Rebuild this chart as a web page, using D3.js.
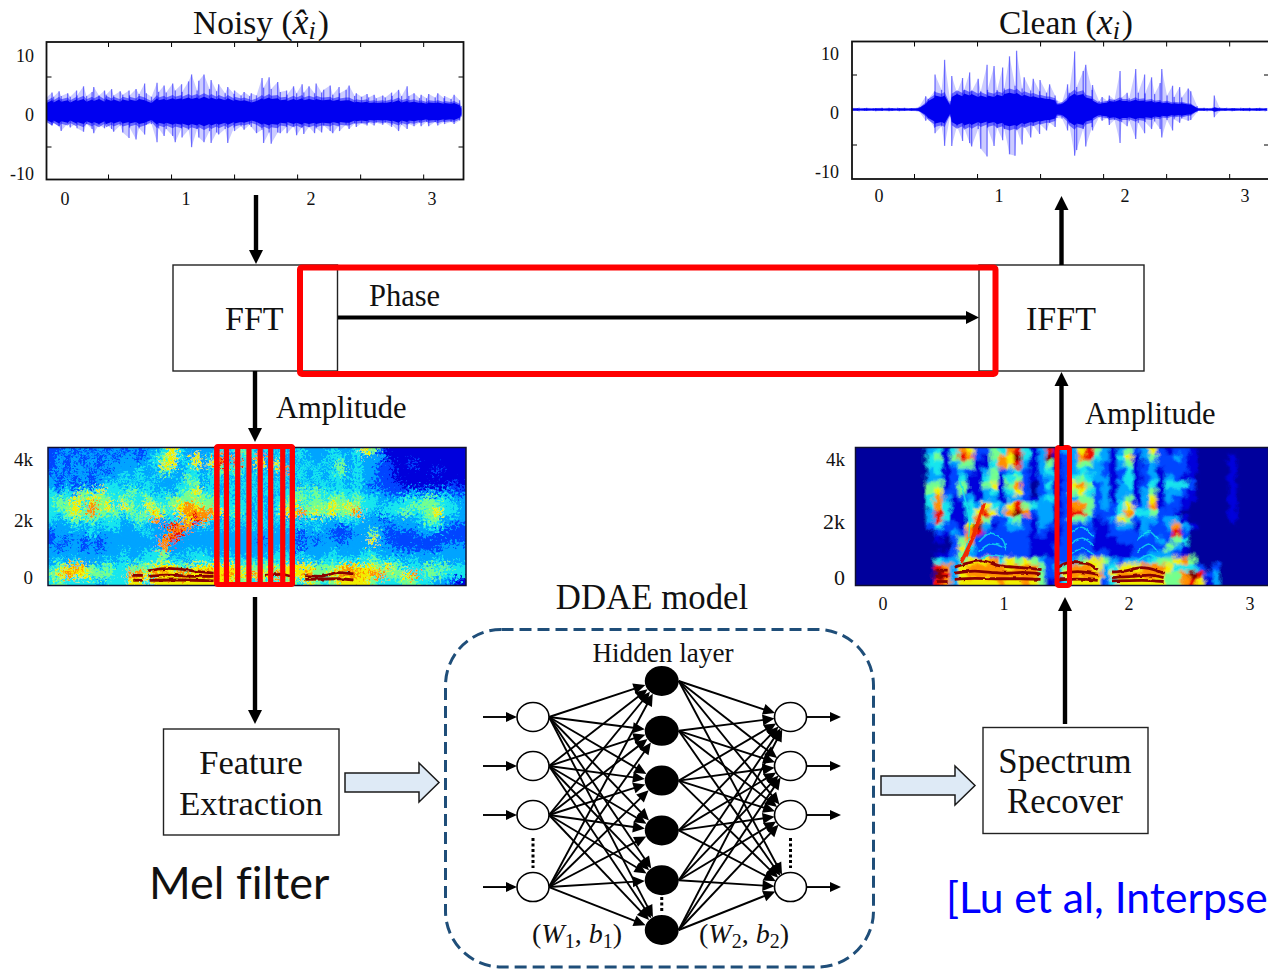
<!DOCTYPE html>
<html>
<head>
<meta charset="utf-8">
<script src="https://cdnjs.cloudflare.com/ajax/libs/d3/7.8.5/d3.min.js"></script>
<style>
  html, body { margin: 0; padding: 0; background: #fff; overflow: hidden; }
  text { font-family: "Liberation Serif", serif; fill: #111; }
  .sans { font-family: "Lato", sans-serif; font-variant-ligatures: none; }
</style>
</head>
<body>
<div id="chart"></div>
<script>
// Waveform envelopes (amplitude, one value per 4px of plot)
const noisyUp = [2.0,2.7,2.1,2.9,2.2,2.6,2.1,3.0,2.3,3.6,2.2,2.8,3.5,2.3,3.0,2.4,3.2,2.3,2.9,2.4,3.0,2.3,3.2,2.5,4.0,2.6,2.1,4.1,2.8,3.7,2.7,4.0,3.0,3.9,2.8,4.3,5.3,3.0,4.4,5.3,3.2,4.5,2.9,3.9,2.6,3.5,2.5,3.0,2.3,2.8,2.2,2.6,2.3,4.8,3.4,4.9,3.2,4.2,2.8,3.0,2.4,3.6,2.6,3.9,2.7,3.6,2.6,4.0,2.7,3.1,3.7,2.4,3.5,2.6,3.1,3.7,2.2,2.6,2.1,2.5,2.0,2.4,1.9,2.3,2.0,2.7,2.2,3.1,2.2,3.6,2.2,2.6,1.9,2.4,1.9,2.5,2.0,2.6,1.9,2.2,1.8,2.4,1.6,0.8];
const noisyDown = [1.5,2.0,1.6,2.1,2.8,1.7,2.3,1.7,2.4,2.9,1.8,2.5,3.1,1.9,2.4,1.8,2.5,2.9,2.0,3.0,3.8,2.3,4.0,2.4,3.3,1.9,1.8,4.4,2.4,3.5,2.5,3.5,4.4,2.4,3.7,2.6,5.1,2.5,3.7,4.4,2.8,4.5,3.0,3.3,2.5,4.5,2.3,2.8,2.1,2.6,1.9,2.2,3.1,2.6,4.5,3.0,4.6,3.0,3.1,2.2,3.1,2.1,3.4,2.2,3.2,2.2,3.1,2.4,3.0,2.0,2.8,3.1,2.0,2.8,1.9,2.5,1.7,2.2,1.7,2.0,1.6,2.0,1.6,1.9,1.6,2.2,1.9,2.8,1.9,2.5,1.8,2.1,1.6,2.1,1.5,2.1,1.5,2.0,1.5,1.8,1.5,1.8,1.3,0.7];
const noisyCore = [1.2,1.6,1.3,1.7,1.4,1.6,1.3,1.7,1.5,1.8,1.4,1.7,1.5,1.8,1.4,1.8,1.5,1.7,1.4,1.7,1.5,1.7,1.5,1.8,1.6,1.5,1.2,1.9,1.6,1.8,1.6,1.9,1.7,1.9,1.7,2.0,1.8,2.0,1.8,2.1,1.8,2.0,1.7,1.9,1.6,1.9,1.5,1.7,1.5,1.6,1.4,1.3,1.5,1.9,1.7,2.0,1.8,1.9,1.6,1.7,1.5,1.8,1.6,1.9,1.6,1.8,1.6,1.8,1.6,1.6,1.7,1.5,1.7,1.5,1.6,1.6,1.3,1.4,1.3,1.4,1.2,1.3,1.2,1.3,1.2,1.4,1.3,1.6,1.3,1.5,1.3,1.4,1.2,1.3,1.1,1.3,1.2,1.3,1.1,1.2,1.1,1.2,.9,.4];

const cleanUp = [.25,.2,.25,.2,.25,.2,.2,.25,.2,.25,.2,.25,.2,.25,.2,.2,.25,.4,1.9,1.5,2.6,5,2.8,7.1,1.2,4.8,2.4,4.5,2.8,5.3,2.6,4.4,2.6,6.4,2.8,6.2,2.8,6,3,7.6,3.4,8.4,3,4.6,2.7,4.4,2.6,4.2,2.4,3.6,2,1.3,1,3.6,2.4,8.3,3.2,5.5,6.4,2.8,3.5,1.2,1.8,1.2,2,1.4,5.5,1.7,2.4,1.6,5.8,2.4,5,2.3,4.6,2.2,3.8,5.8,2,3.4,1.8,3.2,1.7,3,2.6,.5,.25,.25,.2,.25,2,.3,.2,.25,.2,.2,.25,.2,.25,.2,.2,.25,.2,.2];
const cleanDown = [.2,.2,.25,.2,.2,.2,.25,.2,.2,.25,.2,.2,.25,.2,.2,.2,.25,.3,1.6,1.3,2.6,3.4,2.4,5.2,1,5.2,2.4,4.5,2.6,4.8,5.3,2.8,5.6,6.7,2.6,5.2,2.6,4.4,2.8,6.4,6.6,2.8,5,2.4,4,2.3,3.5,2.1,3,1.9,2.5,1.2,1.3,3,2,6.6,5.8,2.8,5.3,2.5,3,1.1,1.6,1.2,2.2,1.5,4.8,1.8,2.4,1.6,4.2,1.9,3.4,1.8,2.8,1.7,2.8,4,1.5,3,1.4,1.9,1.3,1.6,1.5,.4,.2,.2,.25,.2,1.1,.25,.2,.2,.25,.2,.2,.2,.25,.2,.2,.2,.25,.2];
const cleanCore = [.15,.15,.12,.15,.15,.12,.15,.15,.12,.15,.15,.12,.15,.15,.12,.15,.15,.2,.8,1.2,1.7,2,1.8,2,.6,1.8,2.2,1.9,2.3,2,2.2,1.8,2,1.7,2,1.8,2.1,1.9,2.2,2.4,2.2,2.4,1.9,2.1,1.8,1.9,1.6,1.7,1.5,1.5,1.3,.7,.8,1.4,1.8,2.3,2,2.2,1.7,1.5,1.3,.8,.9,1,1.2,1.1,1.4,1.2,1.2,1.1,1.4,1.2,1.3,1.1,1.2,1,1.1,.9,1,.8,.9,.8,.9,.7,.7,.2,.15,.15,.12,.15,.3,.15,.15,.12,.15,.15,.12,.15,.15,.12,.15,.15,.12,.15];

// Axis labels
const ampLabels = [10, 0, -10];
const ampTicks = [-5, 5];
const timeTicks = [0.5, 1, 1.5, 2, 2.5, 3];
const timeLabels = [0, 1, 2, 3];
const freqLabels = ["4k", "2k", "0"];

// Spectrogram levels 0-9 per cell, 52 columns, top row first
const noisyCells = [
 "2232323232 3233464333 3434543434 3433343346 5211111111 11",
 "2323232323 3234564363 4737447343 3433344343 3311111111 11",
 "2323232333 3334663463 6848436363 4343435343 3221121111 11",
 "2323323233 3433543443 4545434347 3434345343 3221111121 11",
 "3232323334 3434333543 4434343434 3434344343 3221111111 11",
 "3232323443 4343334453 4343434343 4343434343 2222111111 21",
 "4343546444 5443434564 4344343434 4545444443 3322232323 22",
 "4546565545 4454455555 5443434344 5545455454 4333444544 33",
 "4556475646 5465456765 5444434345 6455565654 4344455554 43",
 "4456575554 5456546777 7645434346 6756565574 3444544564 43",
 "4345454443 4547343687 4343434343 4343434443 3233334553 33",
 "3334343443 3433387734 3434343434 3434332333 3323333443 22",
 "2333343333 3343378333 3333333333 3233322233 5322223322 22",
 "2323232333 3333783333 3333332333 3232332333 6322222222 22",
 "3233232333 3333733333 3333333333 3233333333 3332222223 33",
 "3333333334 3344533444 3343333344 3433343334 4333333333 33",
 "3434333434 3444544344 4444444444 4343444444 5444343343 33",
 "4567654544 5556665566 6666555556 6665556766 6565444545 44",
 "5676655544 7767767767 7676676676 6675567776 7755674554 44",
 "4544443444 6646666666 6665544545 5465456666 5444554433 21"
];
const cleanCells = [
 "0000000003 4147622547 8413813368 5313523621 2210000000 00",
 "0000000004 5158721576 9413912378 4314613522 3210000100 00",
 "0000000004 4135511476 8313512355 3213512322 2210000100 00",
 "0000000003 4123213523 4213412343 3212412312 2210000100 00",
 "0000000003 3124114514 5212312454 3312412313 2110000100 00",
 "0000000005 5125115615 7202412675 2313412414 4420000100 00",
 "0000000005 6225113414 6202312564 2313313513 3210000100 00",
 "0000000004 7312313313 3213412355 2313513613 2110000100 00",
 "0000000004 7411436436 8543312775 2324623712 2100000100 00",
 "0000000003 8411468637 9723312885 2224744522 1000000100 00",
 "0000000003 8411475224 5213312553 1236523323 3100000100 00",
 "0000000002 4221693123 3213212222 1123313223 7310000000 00",
 "0000000000 2132782222 2212112222 1122223222 8200000000 00",
 "0000000000 1025722222 2211112222 1112222232 5400000000 00",
 "0000000000 0026422222 2211122222 1111122225 3100000000 00",
 "0000000000 1125322222 2211122222 2211122333 2100000000 00",
 "0000000000 4335666746 5653222356 6532333455 6750000000 00",
 "0000000000 8736777776 7775235777 6346667776 4442020000 00",
 "0000000000 9836777777 7775236777 7367777775 5798230000 00",
 "0000000000 8736666676 6765124666 6246666665 5786130000 00"
];

// Harmonic tracks over the spectrograms, as [column, frequency in Hz]
const noisyTracks = [
 [[12.5,480],[15,560],[18,480],[20.6,400]],
 [[12.5,300],[15,340],[18,300],[20.6,300]],
 [[10.6,330],[11.8,330]],
 [[10.6,170],[11.8,170]],
 [[12.5,170],[16,180],[20.6,150]],
 [[27,330],[29,360],[30.4,280]],
 [[32,320],[34,300],[36,420],[38,380]],
 [[32,200],[36,220],[38,180]]
];
const cleanTracks = [
 [[10.2,500],[11.6,500]],
 [[10.2,300],[11.6,300]],
 [[10.2,130],[11.6,130]],
 [[12.5,600],[14,720],[16,800],[18,650],[20,600],[22,560],[23.3,520]],
 [[12.5,400],[15,470],[17,430],[19,400],[21,430],[23.3,380]],
 [[12.5,200],[15,230],[18,220],[21,220],[23.3,200]],
 [[25.3,560],[27,750],[29,720],[30.5,520]],
 [[25.3,360],[28,450],[30.5,360]],
 [[25.3,180],[28,210],[30.5,170]],
 [[32.3,440],[34,480],[36,580],[38,480],[38.8,400]],
 [[32.3,260],[35,300],[37,340],[38.8,260]],
 [[32.3,150],[36,170],[38.8,130]]
];
// Thin cyan formant curves and arcs in the clean spectrogram
const cleanFringes = [
 [[13,3500],[13.6,3000],[14.3,2200],[14.2,1500],[13.6,1000],[13,650]],
 [[15.5,1400],[17,1700],[18.5,1500],[19,1100]],
 [[15.5,1100],[17,1350],[18.5,1250]],
 [[15.8,850],[17,1000],[18.5,950]],
 [[27,1700],[28.5,1900],[30,1600]],
 [[27,1350],[28.5,1550],[30,1300]],
 [[27,1000],[28.5,1200],[30,1000]],
 [[35.5,1500],[37,1750],[38,1500]],
 [[35.5,1100],[37,1350],[38,1100]],
 [[35.5,800],[37,1000],[38,850]]
];
// Bright formant streak rising out of the first vowel
const cleanStreak = [[13.3,750],[14.5,1400],[15.5,2100],[16.2,2700]];

// Frame outlines on the noisy spectrogram, in columns
const noisyFrames = [21.0, 22.2, 23.6, 25.0, 26.4, 27.7, 29.2, 30.4];

// Network slots
const inputSlots = [0, 1, 2, 3.47];
const hiddenSlots = [0, 1, 2, 3, 4, 5];
const layers = ["input", "hidden", "output"];

const jet = d3.scaleLinear()
    .domain([0, 1, 2, 3, 4, 5, 6, 7, 8, 9])
    .range(["#00009c", "#0000dc", "#0044ff", "#00a4ff", "#12e6ee", "#74ff8c", "#f2f000", "#ff9000", "#ee1000", "#7e0000"]);

const svg = d3.select("#chart").append("svg")
    .attr("width", 1268)
    .attr("height", 973);

const defs = svg.append("defs");

// Soft mottled look for the spectrograms
function speckle(id, blur, freq, scale, after) {
    const f = defs.append("filter").attr("id", id).attr("x", "-5%").attr("y", "-5%").attr("width", "110%").attr("height", "110%");
    f.append("feGaussianBlur").attr("in", "SourceGraphic").attr("stdDeviation", blur).attr("result", "b");
    f.append("feTurbulence").attr("type", "fractalNoise").attr("baseFrequency", freq).attr("numOctaves", 2).attr("seed", 4).attr("result", "n");
    f.append("feDisplacementMap").attr("in", "b").attr("in2", "n").attr("scale", scale)
        .attr("xChannelSelector", "R").attr("yChannelSelector", "G").attr("result", "d");
    f.append("feGaussianBlur").attr("in", "d").attr("stdDeviation", after);
}
speckle("speckleNoisy", 1.0, 0.38, 24, 0.45);
speckle("speckleClean", 1.5, 0.12, 9, 0.6);
speckle("wobble", 0.3, 0.15, 3, 0.4);

const serifText = (x, y, str, size, anchor) => svg.append("text")
    .attr("x", x).attr("y", y)
    .attr("text-anchor", anchor || "start")
    .style("font-size", size + "px")
    .text(str);

// Black line with a solid triangular head at (x2, y2)
function arrow(g, x1, y1, x2, y2, w, headLen, headW) {
    const a = Math.atan2(y2 - y1, x2 - x1);
    const ux = Math.cos(a), uy = Math.sin(a);
    g.append("line")
        .attr("x1", x1).attr("y1", y1)
        .attr("x2", x2 - ux * headLen * 0.8).attr("y2", y2 - uy * headLen * 0.8)
        .attr("stroke", "#000").attr("stroke-width", w);
    const bx = x2 - ux * headLen, by = y2 - uy * headLen;
    g.append("polygon")
        .attr("points", [[x2, y2], [bx - uy * headW / 2, by + ux * headW / 2], [bx + uy * headW / 2, by - ux * headW / 2]].join(" "))
        .attr("fill", "#000");
}

// Waveform panels
// small fixed sideways offsets so the spikes do not read as an even comb
const spikeShift = [0, 1.5, -1, 0.5, -1.5, 1, -0.5, 1.8, -1.8, 0.7, -0.3, 1.2, -1.2];

function wavePanel(id, box, tickX0, centre, up, down, core, ampRight, ampBase, labelRange, labelBase) {
    const clip = "clip-" + id;
    defs.append("clipPath").attr("id", clip).append("rect")
        .attr("x", box.x).attr("y", box.y).attr("width", box.w).attr("height", box.h);

    const xi = d3.scaleLinear().domain([0, up.length - 1]).range([box.x, box.x + box.w - 1]);
    const xs = (d, i) => xi(i) + spikeShift[i % spikeShift.length];
    const y = d3.scaleLinear().domain([-10, 10]).range([centre + 70, centre - 70]);
    const xTime = d3.scaleLinear().domain([0, 3.3]).range([tickX0, tickX0 + 416]);

    const g = svg.append("g").attr("clip-path", "url(#" + clip + ")");

    // faint jagged envelope
    g.append("path")
        .attr("d", d3.area().x(xs).y0((d, i) => y(-down[i])).y1(d => y(d))(up))
        .attr("fill", "#0000ff").attr("opacity", 0.2);

    // thin spikes
    g.selectAll(".spike").data(up).enter().append("line")
        .attr("x1", xs).attr("x2", xs)
        .attr("y1", d => y(d))
        .attr("y2", (d, i) => y(-down[i]))
        .attr("stroke", "#0000ff").attr("stroke-width", 1.3).attr("opacity", 0.5);

    // halo round the dense part
    g.append("path")
        .attr("d", d3.area().x(xs).y0(d => y(-d * 1.25)).y1(d => y(d * 1.25))(core))
        .attr("fill", "#0000ff").attr("opacity", 0.5);

    g.append("path")
        .attr("d", d3.area().x(xs).y0(d => y(-d)).y1(d => y(d))(core))
        .attr("fill", "#0000f0");

    // frame with inward ticks
    svg.append("g").attr("transform", "translate(0," + (box.y + box.h) + ")")
        .call(d3.axisBottom(xTime).tickValues(timeTicks).tickSize(-5).tickSizeOuter(0).tickFormat(""))
        .call(a => a.select(".domain").remove());
    svg.append("g").attr("transform", "translate(0," + box.y + ")")
        .call(d3.axisTop(xTime).tickValues(timeTicks).tickSize(-5).tickSizeOuter(0).tickFormat(""))
        .call(a => a.select(".domain").remove());
    svg.append("g").attr("transform", "translate(" + box.x + ",0)")
        .call(d3.axisLeft(y).tickValues(ampTicks).tickSize(-5).tickSizeOuter(0).tickFormat(""))
        .call(a => a.select(".domain").remove());
    svg.append("g").attr("transform", "translate(" + (box.x + box.w) + ",0)")
        .call(d3.axisRight(y).tickValues(ampTicks).tickSize(-5).tickSizeOuter(0).tickFormat(""))
        .call(a => a.select(".domain").remove());
    svg.append("rect")
        .attr("x", box.x).attr("y", box.y).attr("width", box.w).attr("height", box.h)
        .attr("fill", "none").attr("stroke", "#111").attr("stroke-width", 1.8);

    const yLab = d3.scalePoint().domain(ampLabels).range(ampBase);
    ampLabels.forEach(v => serifText(ampRight, yLab(v), v, 18, "end"));
    const xLab = d3.scaleLinear().domain(timeLabels).range(labelRange);
    timeLabels.forEach(v => serifText(xLab(v), labelBase, v, 18, "middle"));
}

wavePanel("noisy", { x: 46.5, y: 42, w: 417, h: 137.5 }, 45, 111.5, noisyUp, noisyDown, noisyCore, 34, [62, 180], [65, 186, 311, 432], 205);
wavePanel("clean", { x: 852, y: 41.5, w: 417, h: 137.5 }, 851, 109.5, cleanUp, cleanDown, cleanCore, 839, [60, 178], [879, 999, 1125, 1245], 202);

// Titles
function title(cx, y, word, hat) {
    const t = svg.append("text").attr("x", cx).attr("y", y).attr("text-anchor", "middle").style("font-size", "33.5px");
    t.append("tspan").text(word + " (");
    t.append("tspan").style("font-style", "italic").style("font-size", "36px").text(hat ? "x\u0302" : "x");
    t.append("tspan").style("font-style", "italic").style("font-size", "26px").attr("dy", 5).text("i");
    t.append("tspan").attr("dy", -5).attr("dx", 2).text(")");
}
title(261, 34, "Noisy", true);
title(1066, 34, "Clean", false);

// Spectrograms
function specPanel(id, box, cells, tracks, blur, fringes, streak) {
    const rows = cells.map(r => r.replace(/ /g, "").split("").map(Number));
    const clip = "clip-" + id;
    defs.append("clipPath").attr("id", clip).append("rect")
        .attr("x", box.x).attr("y", box.y).attr("width", box.w).attr("height", box.h);
    const x = d3.scaleBand().domain(d3.range(52)).range([box.x, box.x + box.w]);
    const y = d3.scaleBand().domain(d3.range(rows.length)).range([box.y, box.y + box.h]);
    const xCol = d3.scaleLinear().domain([0, 52]).range([box.x, box.x + box.w]);
    const yFreq = d3.scaleLinear().domain([0, 4500]).range([box.y + box.h, box.y]);

    const outer = svg.append("g").attr("clip-path", "url(#" + clip + ")");
    const g = outer.append("g").attr("filter", "url(#" + blur + ")");
    // edge cells run past the box so the displacement never pulls in white
    const pad = 14;
    rows.forEach((row, r) => {
        g.selectAll(".c" + r).data(row).enter().append("rect")
            .attr("x", (d, c) => x(c) - 0.5 - (c === 0 ? pad : 0))
            .attr("y", y(r) - 0.5 - (r === 0 ? pad : 0))
            .attr("width", (d, c) => x.bandwidth() + 1 + (c === 0 || c === 51 ? pad : 0))
            .attr("height", y.bandwidth() + 1 + (r === 0 || r === rows.length - 1 ? pad : 0))
            .attr("fill", d => jet(d));
    });
    const line = d3.line().x(d => xCol(d[0])).y(d => yFreq(d[1])).curve(d3.curveMonotoneX);
    const curve = d3.line().x(d => xCol(d[0])).y(d => yFreq(d[1])).curve(d3.curveCatmullRom);
    const fine = outer.append("g").attr("filter", "url(#wobble)");
    fine.selectAll(".fringe").data(fringes || []).enter().append("path")
        .attr("d", curve).attr("fill", "none").attr("stroke", jet(4)).attr("stroke-width", 1.5).attr("opacity", 0.8);
    if (streak) {
        fine.append("path").attr("d", curve(streak)).attr("fill", "none").attr("stroke", jet(7.8)).attr("stroke-width", 3.6);
    }
    fine.selectAll(".track").data(tracks).enter().append("path")
        .attr("d", line).attr("fill", "none").attr("stroke", "#8a0000").attr("stroke-width", 2.8);
    svg.append("rect")
        .attr("x", box.x).attr("y", box.y).attr("width", box.w).attr("height", box.h)
        .attr("fill", "none").attr("stroke", "#101030").attr("stroke-width", 1.5);
    return xCol;
}

const noisyCol = specPanel("snoisy", { x: 48, y: 447.5, w: 418, h: 138 }, noisyCells, noisyTracks, "speckleNoisy");
specPanel("sclean", { x: 855.5, y: 447.5, w: 413, h: 138 }, cleanCells, cleanTracks, "speckleClean", cleanFringes, cleanStreak);

const freqYN = d3.scaleOrdinal().domain(freqLabels).range([466, 527, 584]);
freqLabels.forEach(v => serifText(33, freqYN(v), v, 19, "end"));
const freqYC = d3.scaleOrdinal().domain(freqLabels).range([466, 529, 585]);
freqLabels.forEach(v => serifText(845, freqYC(v), v, v === "4k" ? 19 : 22, "end"));
const xLabC = d3.scaleLinear().domain(timeLabels).range([883, 1004, 1129, 1250]);
timeLabels.forEach(v => serifText(xLabC(v), 610, v, 18, "middle"));

// Red frames
noisyFrames.forEach(c => svg.append("line")
    .attr("x1", noisyCol(c)).attr("x2", noisyCol(c)).attr("y1", 446).attr("y2", 585)
    .attr("stroke", "#ff0000").attr("stroke-width", 5.2));
svg.append("rect").attr("x", noisyCol(21.0)).attr("y", 446.5)
    .attr("width", noisyCol(30.4) - noisyCol(21.0)).attr("height", 138)
    .attr("fill", "none").attr("stroke", "#ff0000").attr("stroke-width", 5).attr("rx", 1);
svg.append("rect").attr("x", 1057).attr("y", 447.5).attr("width", 12.5).attr("height", 138)
    .attr("fill", "none").attr("stroke", "#ff0000").attr("stroke-width", 5).attr("rx", 2);

// FFT / IFFT boxes
const boxes = [
    { x: 173, y: 265, w: 164.5, h: 106 },
    { x: 979, y: 265, w: 165, h: 106 },
    { x: 163.5, y: 729, w: 175.5, h: 106 },
    { x: 983, y: 727.5, w: 165, h: 106 }
];
svg.selectAll(".box").data(boxes).enter().append("rect")
    .attr("x", d => d.x).attr("y", d => d.y).attr("width", d => d.w).attr("height", d => d.h)
    .attr("fill", "none").attr("stroke", "#222").attr("stroke-width", 1.4);

svg.append("rect").attr("x", 300).attr("y", 267.5).attr("width", 695.5).attr("height", 106.5)
    .attr("fill", "none").attr("stroke", "#ff0000").attr("stroke-width", 6).attr("rx", 2);

serifText(225, 330, "FFT", 34);
serifText(1026, 330, "IFFT", 34);
serifText(369, 306, "Phase", 30.5);
serifText(276, 418, "Amplitude", 30.5);
serifText(1085, 424, "Amplitude", 30.5);
serifText(251, 774, "Feature", 34.5, "middle");
serifText(251, 815, "Extraction", 34.5, "middle");
serifText(1065, 773, "Spectrum", 34.8, "middle");
serifText(1065, 813, "Recover", 34.8, "middle");
serifText(652, 609, "DDAE model", 34.8, "middle");
serifText(663, 662, "Hidden layer", 27.2, "middle");

// Flow arrows
const flow = svg.append("g");
arrow(flow, 256, 195, 256, 264, 4.4, 14, 14);
arrow(flow, 255, 371, 255, 442, 4.4, 14, 14);
arrow(flow, 255, 597, 255, 724, 4.4, 14, 14);
arrow(flow, 1065, 724, 1065, 597, 4.4, 14, 14);
arrow(flow, 1061.5, 446, 1061.5, 372, 4.4, 14, 14);
arrow(flow, 1061.5, 265, 1061.5, 196, 4.4, 14, 14);
arrow(flow, 338, 317.5, 979, 317.5, 4.2, 13, 13);

// Hollow block arrows
const blockArrow = (x0, xHead, xTip, cy, halfBody, halfHead) => svg.append("polygon")
    .attr("points", [[x0, cy - halfBody], [xHead, cy - halfBody], [xHead, cy - halfHead], [xTip, cy],
        [xHead, cy + halfHead], [xHead, cy + halfBody], [x0, cy + halfBody]].join(" "))
    .attr("fill", "#deeaf6").attr("stroke", "#1a1a1a").attr("stroke-width", 1.5);
blockArrow(345, 419, 439, 782.5, 9.5, 19.5);
blockArrow(881, 955, 975, 785.5, 9.5, 19.5);

// DDAE box
svg.append("rect").attr("x", 445.5).attr("y", 629.5).attr("width", 428).attr("height", 337.5)
    .attr("rx", 56).attr("fill", "none")
    .attr("stroke", "#1f4e79").attr("stroke-width", 3).attr("stroke-dasharray", "12 6");

// Network
const xLayer = d3.scalePoint().domain(layers).range([533, 790.5]);
const ySide = d3.scaleLinear().domain([0, 1]).range([717, 766]);
const yHidden = d3.scaleLinear().domain([0, 5]).range([681, 930]);
const nodeR = { input: [16, 14.5], hidden: [17, 15], output: [16, 14.5] };

const net = svg.append("g");
const edgeEnd = (ax, ay, bx, by, r) => {
    const a = Math.atan2(by - ay, bx - ax);
    return [ax + Math.cos(a) * r[0], ay + Math.sin(a) * r[1]];
};
function connect(fromX, fromYs, fromR, toX, toYs, toR) {
    fromYs.forEach(fy => toYs.forEach(ty => {
        const e = edgeEnd(toX, ty, fromX, fy, toR);
        arrow(net, fromX + fromR[0], fy, e[0], e[1], 1.9, 12, 11);
    }));
}
const sideYs = inputSlots.map(s => ySide(s));
const hiddenYs = hiddenSlots.map(s => yHidden(s));
connect(xLayer("input"), sideYs, nodeR.input, xLayer("hidden"), hiddenYs, nodeR.hidden);
connect(xLayer("hidden"), hiddenYs, nodeR.hidden, xLayer("output"), sideYs, nodeR.output);

sideYs.forEach(y => {
    arrow(net, 483, y, xLayer("input") - 16, y, 1.9, 11, 10);
    arrow(net, xLayer("output") + 16, y, 841, y, 1.9, 11, 10);
});

net.selectAll(".in").data(sideYs).enter().append("ellipse")
    .attr("cx", xLayer("input")).attr("cy", d => d)
    .attr("rx", nodeR.input[0]).attr("ry", nodeR.input[1])
    .attr("fill", "#fff").attr("stroke", "#000").attr("stroke-width", 1.6);
net.selectAll(".out").data(sideYs).enter().append("ellipse")
    .attr("cx", xLayer("output")).attr("cy", d => d)
    .attr("rx", nodeR.output[0]).attr("ry", nodeR.output[1])
    .attr("fill", "#fff").attr("stroke", "#000").attr("stroke-width", 1.6);
net.selectAll(".hid").data(hiddenYs).enter().append("ellipse")
    .attr("cx", xLayer("hidden")).attr("cy", d => d)
    .attr("rx", nodeR.hidden[0]).attr("ry", nodeR.hidden[1])
    .attr("fill", "#000");

[[xLayer("input"), 838, 868], [xLayer("output"), 838, 868], [xLayer("hidden"), 897, 911]].forEach(d => {
    net.append("line").attr("x1", d[0]).attr("x2", d[0]).attr("y1", d[1]).attr("y2", d[2])
        .attr("stroke", "#000").attr("stroke-width", 3).attr("stroke-dasharray", "3 2.5");
});

// Weight labels
function weightLabel(cx, n) {
    const t = svg.append("text").attr("x", cx).attr("y", 943).attr("text-anchor", "middle").style("font-size", "28px");
    t.append("tspan").text("(");
    t.append("tspan").style("font-style", "italic").text("W");
    t.append("tspan").style("font-size", "20px").attr("dy", 5).text(n);
    t.append("tspan").attr("dy", -5).text(", ");
    t.append("tspan").style("font-style", "italic").text("b");
    t.append("tspan").style("font-size", "20px").attr("dy", 5).text(n);
    t.append("tspan").attr("dy", -5).text(")");
}
weightLabel(577, 1);
weightLabel(744, 2);

// Notes
svg.append("text").attr("class", "sans").attr("x", 149).attr("y", 899)
    .style("font-size", "45px").text("Mel filter");
svg.append("text").attr("class", "sans").attr("x", 946).attr("y", 913)
    .style("font-size", "42.6px").style("fill", "#0000ff").text("[Lu et al, Interpse");
</script>
</body>
</html>
